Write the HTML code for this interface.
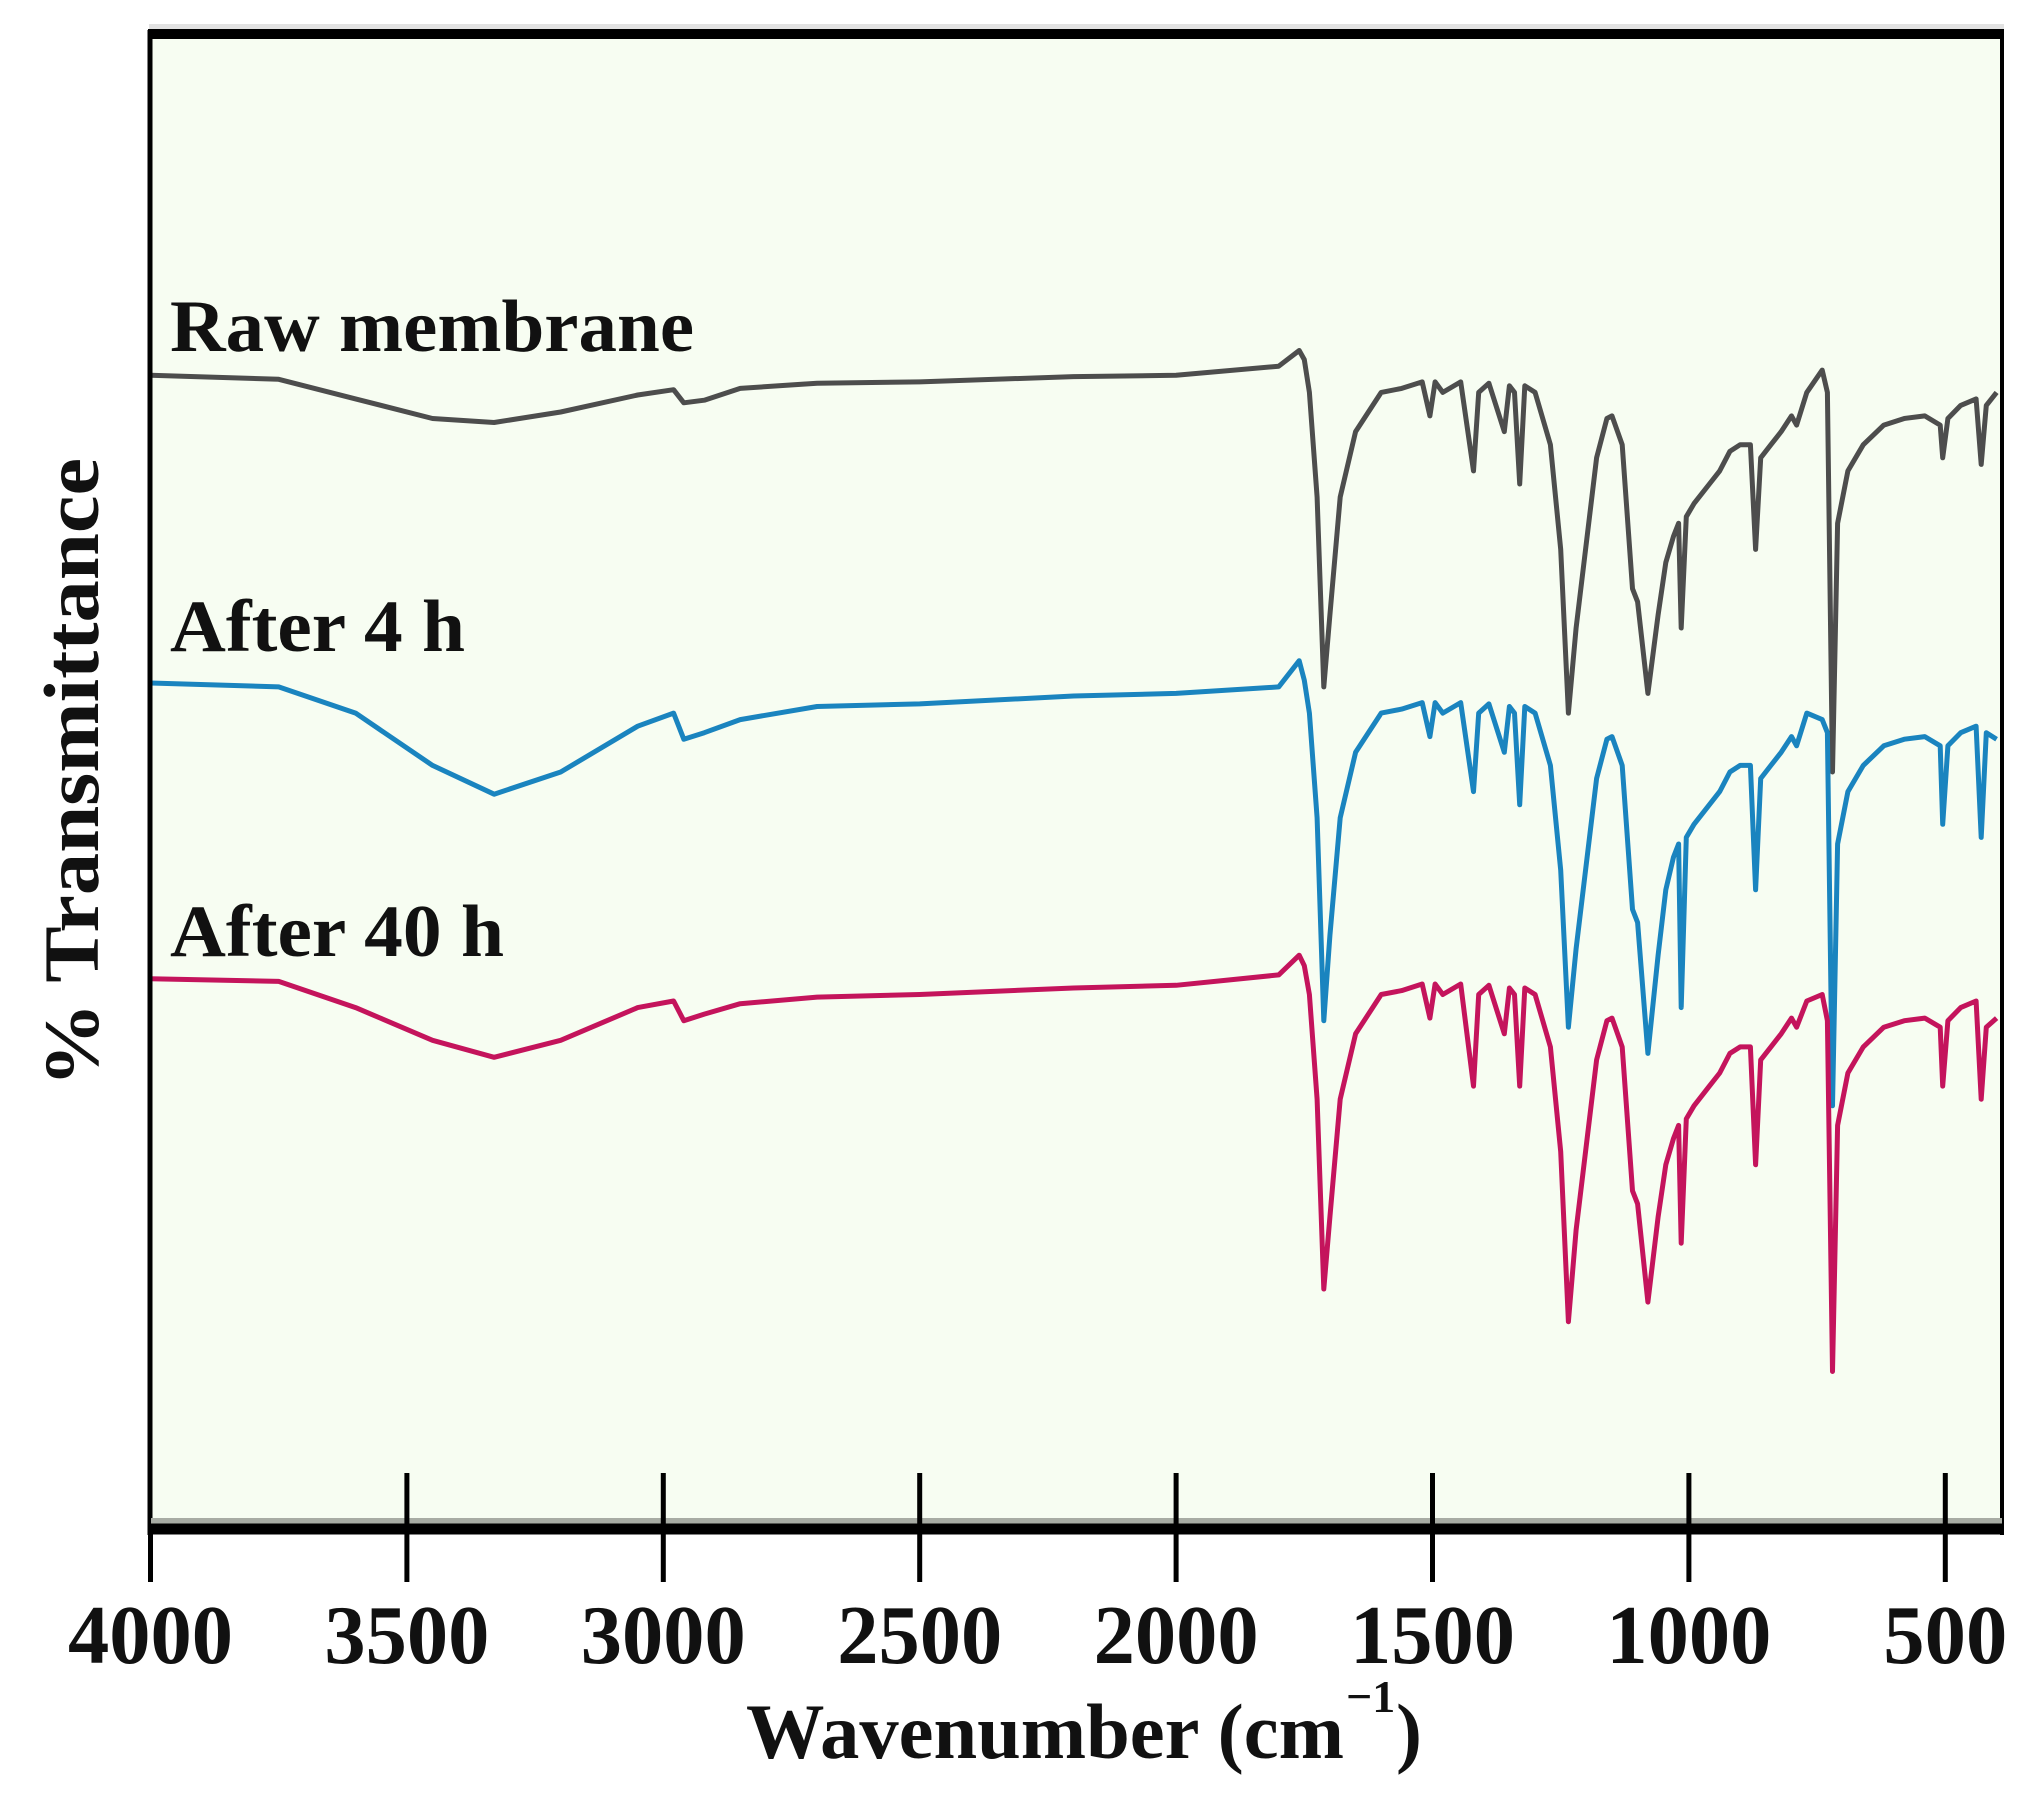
<!DOCTYPE html>
<html><head><meta charset="utf-8"><style>
html,body{margin:0;padding:0;background:#fff;}
svg{display:block;}
text{font-family:"Liberation Serif",serif;font-weight:bold;fill:#111;}
</style></head><body>
<svg id="chart" width="2042" height="1801" viewBox="0 0 2042 1801" xmlns="http://www.w3.org/2000/svg">
<rect x="151" y="36" width="1851" height="1490" fill="#f7fdf2"/>
<g id="series"></g>
<rect x="149" y="24" width="1855" height="6" fill="#e2e2e2"/>
<line x1="148" y1="34" x2="2004" y2="34" stroke="#000" stroke-width="10"/>
<line x1="150" y1="30" x2="150" y2="1535" stroke="#000" stroke-width="5"/>
<line x1="2002" y1="30" x2="2002" y2="1535" stroke="#000" stroke-width="4"/>
<rect x="151" y="1518" width="1851" height="6" fill="#a8aca4"/>
<line x1="148" y1="1529" x2="2004" y2="1529" stroke="#000" stroke-width="11"/>
<g id="xticks"></g>
<text x="170" y="351" font-size="74" textLength="524" lengthAdjust="spacingAndGlyphs">Raw membrane</text>
<text x="170" y="651" font-size="74" textLength="295" lengthAdjust="spacingAndGlyphs">After 4 h</text>
<text x="170" y="956" font-size="74" textLength="334" lengthAdjust="spacingAndGlyphs">After 40 h</text>
<text x="746" y="1758" font-size="78" textLength="598" lengthAdjust="spacingAndGlyphs">Wavenumber (cm</text>
<text x="1346" y="1712" font-size="46">−1</text>
<text x="1396" y="1758" font-size="78">)</text>
<text transform="translate(98,1087) rotate(-90)" font-size="78" textLength="629" lengthAdjust="spacingAndGlyphs">% Transmittance</text>
</svg>
<script>
const xTicks = [4000, 3500, 3000, 2500, 2000, 1500, 1000, 500];
const wavenumbers = [4000,3750,3600,3450,3330,3200,3050,2980,2960,2920,2850,2700,2500,2200,2000,1800,1760,1750,1740,1725,1712,1700,1680,1650,1600,1560,1520,1505,1495,1480,1445,1420,1410,1390,1360,1350,1340,1330,1320,1300,1270,1250,1235,1220,1180,1160,1150,1130,1110,1100,1080,1060,1045,1030,1020,1015,1005,990,960,940,920,900,880,870,860,840,820,800,790,770,740,730,720,710,690,660,620,580,540,510,505,495,470,440,430,420,400];
const rawMembrane = [913,910,895,880,877,885,898,902,892,894,903,907,908,912,913,920,932,925,900,820,675,730,820,870,900,903,908,882,908,900,908,840,900,907,870,905,900,830,905,900,860,780,655,720,850,880,882,860,750,740,670,730,770,790,800,720,805,815,830,840,855,860,860,780,850,860,870,882,875,900,917,900,610,800,840,860,875,880,882,875,850,880,890,895,845,890,900];
const after4h = [678,675,655,615,593,610,645,655,635,640,650,660,662,668,670,675,695,680,655,575,420,485,575,625,655,658,663,637,663,655,663,595,655,662,625,660,655,585,660,655,615,535,415,475,605,635,637,615,505,495,395,470,520,545,555,430,560,570,585,595,610,615,615,520,605,615,625,637,630,655,650,640,355,555,595,615,630,635,637,630,570,630,640,645,560,640,635];
const after40h = [452,450,430,405,392,405,430,435,420,425,433,438,440,445,447,455,470,462,440,360,215,270,360,410,440,443,448,422,448,440,448,370,440,447,410,445,440,370,445,440,400,320,190,260,390,420,422,400,290,280,205,270,310,330,340,250,345,355,370,380,395,400,400,310,390,400,410,422,415,435,440,420,152,340,380,400,415,420,422,415,370,420,430,435,360,415,422];

const X0 = 150.5, X_PER_500 = 256.4;
function xScale(w){ return X0 + (4000 - w) / 500 * X_PER_500; }
function yScale(v){ return 35 + (1173 - v) * 1.309; }

const NS = "http://www.w3.org/2000/svg";
const tg = document.getElementById('xticks');
xTicks.forEach(t => {
  const x = xScale(t);
  const l = document.createElementNS(NS, 'line');
  
  
  l.setAttribute('x1', x); l.setAttribute('x2', x);
  l.setAttribute('y1', t === 4000 ? 1529 : 1473); l.setAttribute('y2', 1582);
  l.setAttribute('stroke', '#000'); l.setAttribute('stroke-width', 5);
  tg.appendChild(l);
  const tx = document.createElementNS(NS, 'text');
  
  
  tx.setAttribute('x', x); tx.setAttribute('y', 1663);
  tx.setAttribute('text-anchor', 'middle');
  tx.setAttribute('font-size', 84);
  tx.setAttribute('textLength', t >= 1000 ? 165 : 124);
  tx.setAttribute('lengthAdjust', 'spacingAndGlyphs');
  tx.textContent = t;
  tg.appendChild(tx);
});

const sg = document.getElementById('series');
[[rawMembrane, '#4d4d4d', 'raw-membrane-line'], [after4h, '#1a84bf', 'after-4h-line'], [after40h, '#c4145c', 'after-40h-line']].forEach(s => {
  const d = s[0].map((v, i) => (i ? 'L' : 'M') + xScale(wavenumbers[i]).toFixed(1) + ',' + yScale(v).toFixed(1)).join(' ');
  const p = document.createElementNS(NS, 'path');
  
  
  p.setAttribute('d', d);
  p.setAttribute('fill', 'none');
  p.setAttribute('stroke', s[1]);
  p.setAttribute('stroke-width', 5);
  p.setAttribute('stroke-linejoin', 'round');
  sg.appendChild(p);
});
</script>
</body></html>
